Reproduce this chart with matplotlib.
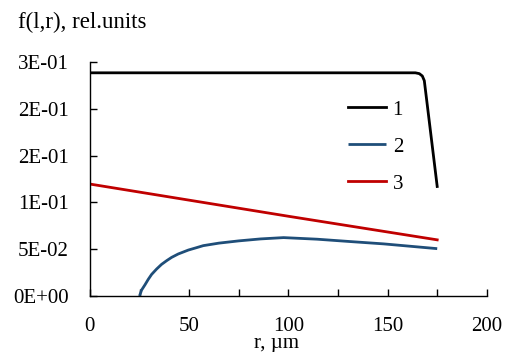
import matplotlib
matplotlib.use("Agg")
import matplotlib.pyplot as plt
from matplotlib.ticker import FixedLocator, MultipleLocator

# curve 1: flat plateau with a sharp edge drop
r1 = [0, 50, 100, 150, 164, 166, 167.5, 168.5, 170, 175]
f1 = [0.2384, 0.2384, 0.2384, 0.2384, 0.2384, 0.2375, 0.235, 0.230, 0.204, 0.117]

# curve 2: rises from r = 25, flat maximum near 100
r2 = [25, 26.05, 27.7, 29.4, 31.1, 33.6, 36.1, 38.7, 41.2, 44.5, 49.6, 53.8,
      57.1, 65, 75, 86, 97.6, 114.5, 131, 148, 175]
f2 = [0, 0.0064, 0.0118, 0.0178, 0.0231, 0.0288, 0.0338, 0.0378, 0.0413,
      0.0449, 0.0491, 0.0517, 0.0538, 0.0565, 0.0589, 0.0610, 0.0624,
      0.0607, 0.0582, 0.0557, 0.0506]

# curve 3: straight decline
r3 = [0, 100, 175]
f3 = [0.1196, 0.0852, 0.0600]

y_ticks = [0, 0.05, 0.10, 0.15, 0.20, 0.25]
y_tick_labels = ["0E+00", "5E-02", "1E-01", "2E-01", "2E-01", "3E-01"]
x_ticks = [0, 50, 100, 150, 200]

plt.rcParams["font.family"] = ["Liberation Serif", "DejaVu Serif"]

fig = plt.figure(figsize=(5.05, 3.52), dpi=100)
ax = fig.add_axes([0.178, 0.159, 0.786, 0.665])

ax.plot(r1, f1, color="#000000", lw=2.0, label="1")
ax.plot(r2, f2, color="#1f4e79", lw=2.0, label="2", solid_capstyle="butt")
ax.plot(r3, f3, color="#c00000", lw=2.0, label="3")

ax.set_xlim(0, 200)
ax.set_ylim(0, 0.25)
ax.xaxis.set_major_locator(FixedLocator(x_ticks))
ax.xaxis.set_minor_locator(MultipleLocator(25))
ax.yaxis.set_major_locator(FixedLocator(y_ticks))
ax.set_yticklabels(y_tick_labels)

for s in ("top", "right"):
    ax.spines[s].set_visible(False)
for s in ("left", "bottom"):
    ax.spines[s].set_linewidth(1.0)

ax.tick_params(which="both", direction="in", length=5, width=1.0, labelsize=15)
ax.tick_params(axis="x", pad=15)
ax.tick_params(axis="y", pad=15)

fig.text(277 / 505, 4 / 352, "r, \u00b5m", fontsize=15, ha="center", va="baseline")
fig.text(0.036, 0.937, "f(l,r), rel.units", fontsize=16.5, va="center", ha="left")

ax.legend(loc="upper left", bbox_to_anchor=(0.63, 0.873), frameon=False,
          fontsize=15, handlelength=1.83, handletextpad=0.3,
          labelspacing=0.84, borderaxespad=0)

fig.savefig("out.png", dpi=100)
